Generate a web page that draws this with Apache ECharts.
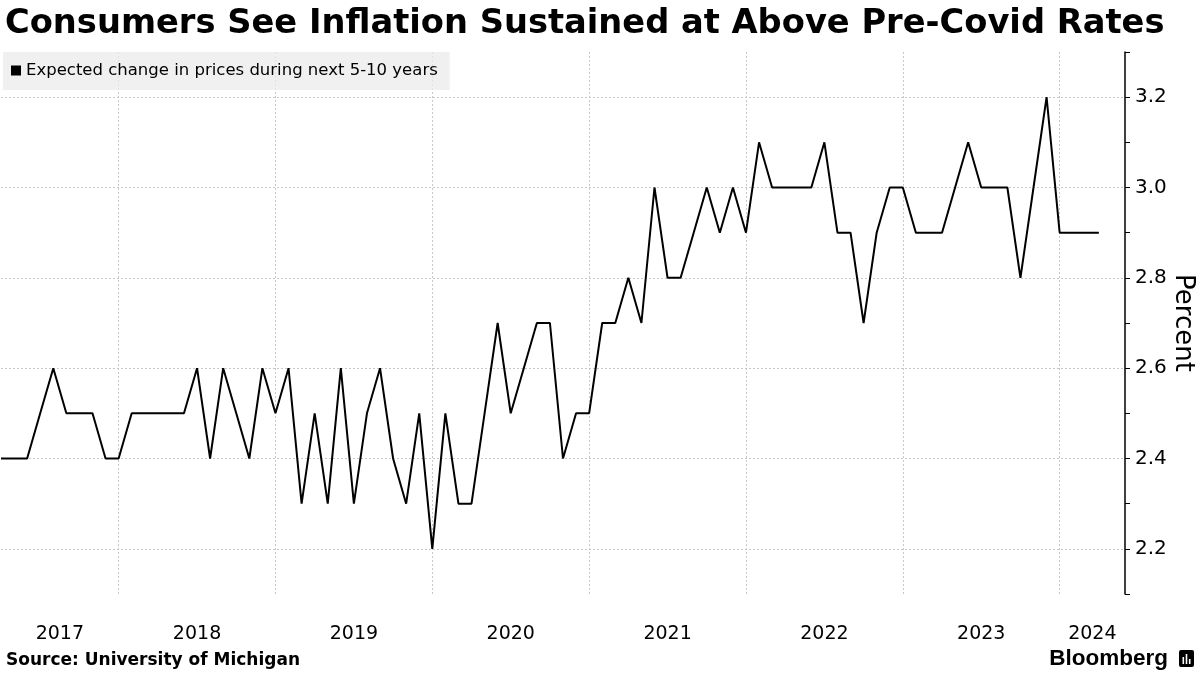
<!DOCTYPE html>
<html><head><meta charset="utf-8">
<script src="https://cdn.jsdelivr.net/npm/echarts@6/dist/echarts.min.js"></script>
<style>html,body{margin:0;padding:0;background:#fff;overflow:hidden}#c{width:1200px;height:675px}</style>
</head><body><div id="c"></div>
<script>
// Monthly categories (Apr 2017 .. Jun 2024; last two months have no reading yet)
const categories = [
  '2017-04','2017-05','2017-06','2017-07','2017-08','2017-09','2017-10','2017-11','2017-12',
  '2018-01','2018-02','2018-03','2018-04','2018-05','2018-06','2018-07','2018-08','2018-09','2018-10','2018-11','2018-12',
  '2019-01','2019-02','2019-03','2019-04','2019-05','2019-06','2019-07','2019-08','2019-09','2019-10','2019-11','2019-12',
  '2020-01','2020-02','2020-03','2020-04','2020-05','2020-06','2020-07','2020-08','2020-09','2020-10','2020-11','2020-12',
  '2021-01','2021-02','2021-03','2021-04','2021-05','2021-06','2021-07','2021-08','2021-09','2021-10','2021-11','2021-12',
  '2022-01','2022-02','2022-03','2022-04','2022-05','2022-06','2022-07','2022-08','2022-09','2022-10','2022-11','2022-12',
  '2023-01','2023-02','2023-03','2023-04','2023-05','2023-06','2023-07','2023-08','2023-09','2023-10','2023-11','2023-12',
  '2024-01','2024-02','2024-03','2024-04','2024-05','2024-06'
];
// Expected change in prices during next 5-10 years (%)
const expectedChange = [
  2.4,2.4,2.4,2.5,2.6,2.5,2.5,2.5,2.4,
  2.4,2.5,2.5,2.5,2.5,2.5,2.6,2.4,2.6,2.5,2.4,2.6,
  2.5,2.6,2.3,2.5,2.3,2.6,2.3,2.5,2.6,2.4,2.3,2.5,
  2.2,2.5,2.3,2.3,2.5,2.7,2.5,2.6,2.7,2.7,2.4,2.5,
  2.5,2.7,2.7,2.8,2.7,3.0,2.8,2.8,2.9,3.0,2.9,3.0,
  2.9,3.1,3.0,3.0,3.0,3.0,3.1,2.9,2.9,2.7,2.9,3.0,
  3.0,2.9,2.9,2.9,3.0,3.1,3.0,3.0,3.0,2.8,3.0,3.2,
  2.9,2.9,2.9,2.9,null,null
];
const seriesName = 'Expected change in prices during next 5-10 years';
const yearLabels = ['2017','2018','2019','2020','2021','2022','2023','2024'];
const yMin = 2.1, yMax = 3.3, yStep = 0.1;

// year label centres derived from category indices
const lastIdx = categories.length - 1;
const yearCenters = yearLabels.map(y => {
  const start = categories.findIndex(c => c.startsWith(y));
  let next = categories.findIndex(c => c.startsWith(String(+y + 1)));
  if (next < 0) next = lastIdx;
  return (start + next) / 2;
});

const FONT = 'DejaVu Sans';
const chart = echarts.init(document.getElementById('c'));
chart.setOption({
  animation: false,
  backgroundColor: '#fff',
  title: {
    text: 'Consumers See Inflation Sustained at Above Pre-Covid Rates',
    left: 0, top: 2,
    textStyle: { fontFamily: FONT, fontWeight: 'bold', fontSize: 33.7, color: '#000' }
  },
  legend: {
    data: [seriesName],
    left: 3, top: 52,
    padding: [10, 12, 11, 8],
    backgroundColor: 'rgba(235,235,235,0.75)',
    icon: 'rect', itemWidth: 10, itemHeight: 10, itemGap: 6,
    textStyle: { fontFamily: FONT, fontSize: 16.5, color: '#000' }
  },
  grid: { left: 1, right: 75, top: 52, bottom: 81, containLabel: false, outerBoundsMode: 'none' },
  xAxis: [{
    type: 'category', data: categories, boundaryGap: false,
    axisLine: { show: false }, axisTick: { show: false }, axisLabel: { show: false },
    splitLine: {
      show: true,
      interval: (i) => categories[i].endsWith('-01'),
      lineStyle: { color: '#c8c8c8', type: [2, 2], width: 1 }
    }
  }, {
    type: 'value', position: 'bottom', min: 0, max: lastIdx, interval: 0.5,
    axisLine: { show: false }, axisTick: { show: false }, splitLine: { show: false },
    axisLabel: {
      margin: 31, fontFamily: FONT, fontSize: 19, color: '#000', hideOverlap: false,
      formatter: (v) => {
        const k = yearCenters.findIndex(c => Math.abs(c - v) < 1e-6);
        return k >= 0 ? yearLabels[k] : '';
      }
    }
  }],
  yAxis: {
    type: 'value', position: 'right', min: yMin, max: yMax, interval: yStep,
    name: 'Percent', nameLocation: 'middle', nameRotate: -90, nameGap: 45,
    nameMoveOverlap: false,
    nameTextStyle: { fontFamily: FONT, fontSize: 26, color: '#000' },
    axisLine: { show: true, onZero: false, lineStyle: { color: '#000', width: 1.5 } },
    axisTick: { show: true, length: 5, lineStyle: { color: '#000', width: 1 } },
    axisLabel: {
      margin: 10, fontFamily: FONT, fontSize: 20, color: '#000',
      formatter: (v) => (Math.round(v * 10) % 2 === 0 ? v.toFixed(1) : '')
    },
    splitLine: { show: true, lineStyle: { color: ['rgba(0,0,0,0)', '#c8c8c8'], type: [2, 2], width: 1 } }
  },
  series: [{
    name: seriesName, type: 'line', data: expectedChange, xAxisIndex: 0,
    showSymbol: false, symbol: 'none', connectNulls: false,
    lineStyle: { color: '#000', width: 2 }, itemStyle: { color: '#000' }, z: 5
  }],
  graphic: [
    { type: 'text', left: 6, top: 652,
      style: { text: 'Source: University of Michigan', font: 'bold 17px "DejaVu Sans"', fill: '#000' } },
    { type: 'text', right: 32, top: 647,
      style: { text: 'Bloomberg', font: 'bold 22.5px "Liberation Sans"', fill: '#000' } },
    { type: 'group', right: 6, top: 650, children: [
      { type: 'rect', shape: { x: 0, y: 0, width: 15, height: 17, r: 2 }, style: { fill: '#000' } },
      { type: 'rect', shape: { x: 3.5, y: 7, width: 1.6, height: 7 }, style: { fill: '#fff' } },
      { type: 'rect', shape: { x: 6.7, y: 4, width: 1.6, height: 10 }, style: { fill: '#fff' } },
      { type: 'rect', shape: { x: 9.9, y: 9, width: 1.6, height: 5 }, style: { fill: '#fff' } }
    ]}
  ]
});
</script></body></html>
